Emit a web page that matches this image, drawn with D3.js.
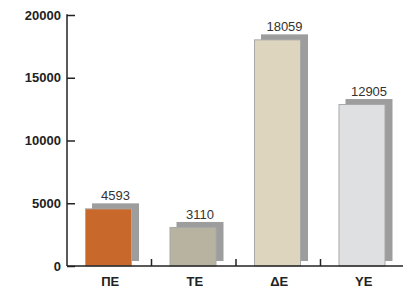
<!DOCTYPE html>
<html>
<head>
<meta charset="utf-8">
<script src="https://cdn.jsdelivr.net/npm/d3@7"></script>
<style>
body { margin: 0; background: #fff; }
text { font-family: "Liberation Sans Narrow", "Liberation Sans", Arial, sans-serif; }
</style>
</head>
<body>
<script>
const categories = ["ΠΕ", "ΤΕ", "ΔΕ", "ΥΕ"];
const values = [4593, 3110, 18059, 12905];
const barColors = ["#c8682b", "#b8b3a0", "#ddd5be", "#dfe0e2"];
const yTicks = [0, 5000, 10000, 15000, 20000];

var width = 403, height = 291;
var svg = d3.select("body").append("svg")
  .attr("width", width).attr("height", height);

var x = d3.scaleBand().domain(categories).range([67, 405]);
var y = d3.scaleLinear().domain([0, 20000]).range([266, 15]);

var barW = 47, barOff = 18, sx = 7, sy = 5;

// shadows
svg.append("g").selectAll("rect").data(values).enter().append("rect")
  .attr("x", function (d, i) { return x(categories[i]) + barOff + sx; })
  .attr("y", function (d) { return y(d) - sy; })
  .attr("width", barW)
  .attr("height", function (d) { return y(0) - y(d); })
  .attr("fill", "#9d9d9d");

// bars
svg.append("g").selectAll("rect").data(values).enter().append("rect")
  .attr("x", function (d, i) { return x(categories[i]) + barOff + 0.5; })
  .attr("y", function (d) { return y(d) + 0.5; })
  .attr("width", barW - 1)
  .attr("height", function (d) { return y(0) - y(d) - 0.5; })
  .attr("fill", function (d, i) { return barColors[i]; })
  .attr("stroke", "#a8a8a8")
  .attr("stroke-width", 1);

// value labels
svg.append("g").selectAll("text").data(values).enter().append("text")
  .attr("x", function (d, i) { return x(categories[i]) + barOff + sx + barW / 2; })
  .attr("y", function (d) { return y(d) - sy - 3; })
  .attr("text-anchor", "middle")
  .attr("font-size", 13)
  .attr("fill", "#333")
  .text(function (d) { return d; });

// y axis
var yAxis = svg.append("g").attr("transform", "translate(67,0)")
  .call(d3.axisRight(y).tickValues(yTicks).tickSize(8).tickFormat(""));
yAxis.select(".domain").remove();
yAxis.selectAll("line").attr("stroke", "#222").attr("stroke-width", 1.5);
svg.append("line").attr("x1", 67).attr("x2", 67)
  .attr("y1", y(20000) - 0.75).attr("y2", y(0))
  .attr("stroke", "#222").attr("stroke-width", 1.5);
svg.append("g").selectAll("text").data(yTicks).enter().append("text")
  .attr("x", 61)
  .attr("y", function (d) { return y(d) + 4.5; })
  .attr("text-anchor", "end")
  .attr("font-size", 13)
  .attr("font-weight", "bold")
  .attr("fill", "#222")
  .text(function (d) { return d; });

// x axis
svg.append("line").attr("x1", 67).attr("x2", width)
  .attr("y1", y(0)).attr("y2", y(0))
  .attr("stroke", "#222").attr("stroke-width", 1.5);
svg.append("g").selectAll("line").data(categories.slice(1)).enter().append("line")
  .attr("x1", function (d) { return x(d); })
  .attr("x2", function (d) { return x(d); })
  .attr("y1", y(0)).attr("y2", y(0) - 7)
  .attr("stroke", "#222").attr("stroke-width", 1.5);
svg.append("g").selectAll("text").data(categories).enter().append("text")
  .attr("x", function (d) { return x(d) + x.bandwidth() / 2 + 1; })
  .attr("y", 286)
  .attr("text-anchor", "middle")
  .attr("font-size", 13)
  .attr("font-weight", "bold")
  .attr("fill", "#222")
  .text(function (d) { return d; });
</script>
</body>
</html>
